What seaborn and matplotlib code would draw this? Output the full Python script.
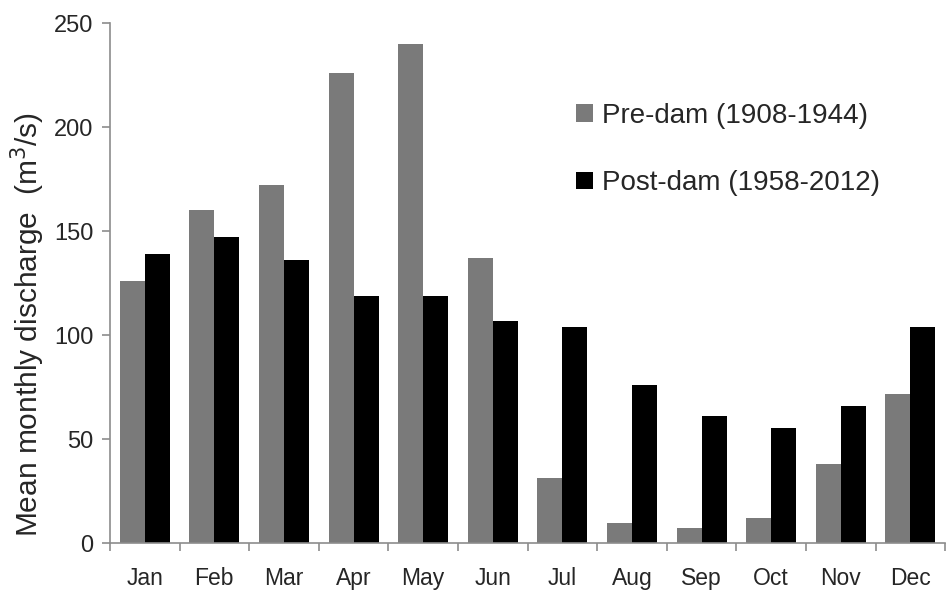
"""
Mean monthly discharge, pre-dam vs post-dam
"""

import numpy as np
import pandas as pd
import matplotlib
matplotlib.use("Agg")
import matplotlib.pyplot as plt
import seaborn as sns

# data
months = ['Jan', 'Feb', 'Mar', 'Apr', 'May', 'Jun',
          'Jul', 'Aug', 'Sep', 'Oct', 'Nov', 'Dec']
pre_dam = [126, 160, 172, 226, 240, 137, 31.5, 9.6, 7.4, 11.9, 38.2, 71.6]
post_dam = [139, 147, 136, 119, 119, 107, 104, 76, 61.3, 55.5, 65.8, 104]
series_names = ['Pre-dam (1908-1944)', 'Post-dam (1958-2012)']
y_ticks = [0, 50, 100, 150, 200, 250]

df = pd.DataFrame({
    'month': months * 2,
    'discharge': pre_dam + post_dam,
    'period': [series_names[0]] * len(months) + [series_names[1]] * len(months),
})

sns.set_style('white')
plt.rcParams['font.family'] = ['Liberation Sans', 'DejaVu Sans']

fig = plt.figure(figsize=(9.48, 5.91), dpi=100)
ax = fig.add_axes([0.116, 0.081, 0.881, 0.880])

sns.barplot(
    data=df, x='month', y='discharge', hue='period',
    order=months, hue_order=series_names,
    palette=['#7a7a7a', '#000000'],
    width=0.72, saturation=1, ax=ax, legend=True,
    edgecolor='none', linewidth=0,
)

ax.set_xlim(-0.5, len(months) - 0.5)
ax.set_ylim(0, 250)
ax.set_yticks(y_ticks)
ax.set_xlabel('')
ax.set_ylabel('Mean monthly discharge  (m$^3$/s)', fontsize=21.5)
ax.yaxis.set_label_coords(-0.075, 0.42)

# spines like the Excel original
sns.despine(ax=ax, top=True, right=True)
for side in ['left', 'bottom']:
    ax.spines[side].set_color('#8c8c8c')
    ax.spines[side].set_linewidth(1.2)

# category ticks sit between the groups
ax.set_xticks(np.arange(-0.5, len(months)), minor=True)
ax.tick_params(axis='x', which='major', length=0, labelsize=16.5, pad=17)
ax.tick_params(axis='x', which='minor', length=6, color='#8c8c8c', width=1.2,
               direction='out', bottom=True)
ax.tick_params(axis='y', which='major', length=6, color='#8c8c8c', width=1.2,
               direction='out', left=True, labelsize=17, pad=6)

leg = ax.legend(
    loc='upper left', bbox_to_anchor=(0.528, 0.895),
    frameon=False, fontsize=20,
    handlelength=0.6, handleheight=0.6, handletextpad=0.35,
    labelspacing=1.5,
)

fig.savefig('out.png', dpi=100)
